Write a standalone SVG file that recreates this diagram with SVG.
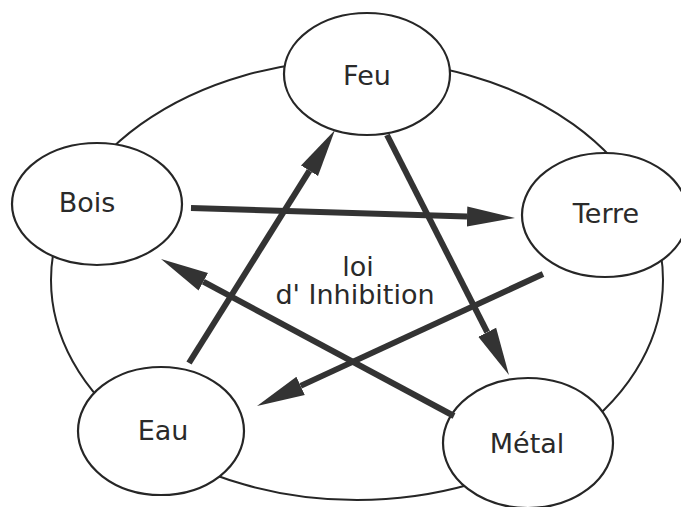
<svg xmlns="http://www.w3.org/2000/svg" width="681" height="507" viewBox="0 0 681 507">
<defs>
<style>
.ring{fill:none;stroke:#262626;stroke-width:2}
.node{fill:#ffffff;stroke:#262626;stroke-width:2.2}
.lbl{font-family:"DejaVu Sans","Liberation Sans",sans-serif;font-size:27px;fill:#2a2a2a;text-anchor:middle}
.arr{stroke:#333333;stroke-width:6;stroke-linecap:butt;fill:none;marker-end:url(#head)}
</style>
<marker id="head" markerUnits="userSpaceOnUse" viewBox="0 -11 50 22" markerWidth="50" markerHeight="22" refX="0" refY="0" orient="auto">
<path d="M0,-10 L48,0 L0,10 z" fill="#333333"/>
</marker>
</defs>
<rect width="681" height="507" fill="#ffffff"/>
<ellipse class="ring" cx="357" cy="280" rx="306" ry="220"/>
<g id="feu"><ellipse class="node" cx="367" cy="74" rx="83" ry="61"/><text class="lbl" x="367" y="85">Feu</text></g>
<g id="bois"><ellipse class="node" cx="97" cy="204" rx="85" ry="61"/><text class="lbl" x="87" y="212">Bois</text></g>
<g id="terre"><ellipse class="node" cx="605" cy="215" rx="83" ry="62"/><text class="lbl" x="606" y="223">Terre</text></g>
<g id="eau"><ellipse class="node" cx="161" cy="431" rx="83" ry="64"/><text class="lbl" x="163" y="440">Eau</text></g>
<g id="metal"><ellipse class="node" cx="528" cy="443" rx="85" ry="65"/><text class="lbl" x="527" y="453">Métal</text></g>
<g id="center-label"><text class="lbl" x="358" y="276">loi</text><text class="lbl" x="355" y="304">d' Inhibition</text></g>
<g id="connectors">
<line class="arr" x1="191" y1="208" x2="467" y2="216.5"/>
<line class="arr" x1="189" y1="363" x2="309.5" y2="170.7"/>
<line class="arr" x1="387" y1="135" x2="487.2" y2="332.2"/>
<line class="arr" x1="543" y1="274" x2="300.6" y2="385.9"/>
<line class="arr" x1="454" y1="416" x2="203.3" y2="281.7"/>
</g>
</svg>
